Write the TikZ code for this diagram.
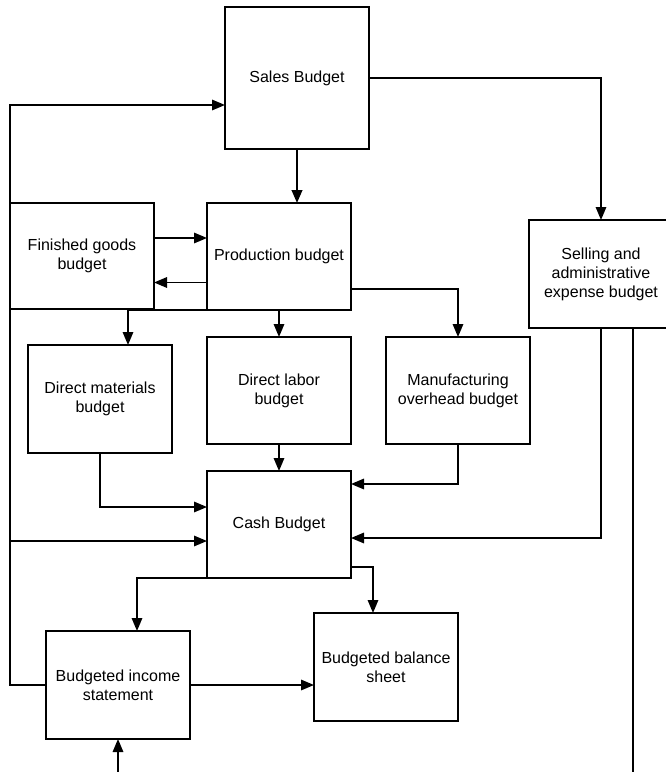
\documentclass[tikz,border=0pt]{standalone}
\usepackage{fontspec}
\setmainfont{Liberation Sans}
\usetikzlibrary{arrows.meta}
\begin{document}
\begin{tikzpicture}[x=1pt,y=-1pt,
  box/.style={draw,line width=1.5pt,minimum width=144pt,inner sep=0pt,outer sep=0pt,
    align=center,font=\fontsize{16pt}{19pt}\selectfont},
  conn/.style={line width=1.6pt},
  arr/.style={conn,-{Triangle[length=13pt,width=10.5pt]}}]
\useasboundingbox (0,0) rectangle (666,772);

% budget boxes
\node[box,minimum height=142pt] (sales) at (297,78)    {Sales Budget};
\node[box,minimum height=106pt] (fg)    at (82,256)    {Finished goods\\budget};
\node[box,minimum height=107pt] (prod)  at (279,256.5) {Production budget};
\node[box,minimum height=108pt] (sa)    at (601,274)   {Selling and\\administrative\\expense budget};
\node[box,minimum height=108pt] (dm)    at (100,399)   {Direct materials\\budget};
\node[box,minimum height=107pt] (dl)    at (279,390.5) {Direct labor\\budget};
\node[box,minimum height=107pt] (mo)    at (458,390.5) {Manufacturing\\overhead budget};
\node[box,minimum height=107pt] (cash)  at (279,524.5) {Cash Budget};
\node[box,minimum height=108pt] (bis)   at (118,685)   {Budgeted income\\statement};
\node[box,minimum height=108pt] (bbs)   at (386,667)   {Budgeted balance\\sheet};

% free ends and bends of the long feedback lines
\coordinate (lb) at (10,685);
\coordinate (lc) at (10,541);
\coordinate (lt) at (10,105);
\coordinate (sabot) at (633,772);
\coordinate (bisbot) at (118,772);

% sales flows
\draw[arr,line width=2.4pt] (sales.south) -- (sales.south |- prod.north);
\draw[arr] (sales.east) -| (sa.north);

% finished goods <-> production
\draw[arr] ([yshift=18pt]fg.east) -- ([yshift=18pt]fg.east -| prod.west);
\draw[arr] ([yshift=-26pt]prod.west) -- ([yshift=-26pt]prod.west -| fg.east);

% production to the operating budgets
\draw[arr] (prod.south west) -| ([xshift=28pt]dm.north);
\draw[arr] (prod.south) -- (dl.north);
\draw[arr] ([yshift=-32.5pt]prod.east) -| (mo.north);

% operating budgets into the cash budget
\draw[arr] (dl.south) -- (cash.north);
\draw[arr] (mo.south) |- ([yshift=40.5pt]cash.east);
\draw[arr] (dm.south) |- ([yshift=17.5pt]cash.west);
\draw[arr] (sa.south) |- ([yshift=-13.5pt]cash.east);
\draw[conn] ([xshift=32pt]sa.south) -- (sabot);

% cash budget to the financial statements
\draw[arr] (cash.south west) -| ([xshift=19pt]bis.north);
\draw[arr] ([yshift=-42.5pt]cash.east) -| ([xshift=-13pt]bbs.north);
\draw[arr] (bis.east) -- (bis.east -| bbs.west);

% feedback loop on the left
\draw[arr] (bis.west) -- (lb) -- (lt) -- ([yshift=-27pt]sales.west);
\draw[arr] (lc) -- (lc -| cash.west);

% incoming line at the bottom
\draw[arr] (bisbot) -- (bis.south);
\end{tikzpicture}
\end{document}
